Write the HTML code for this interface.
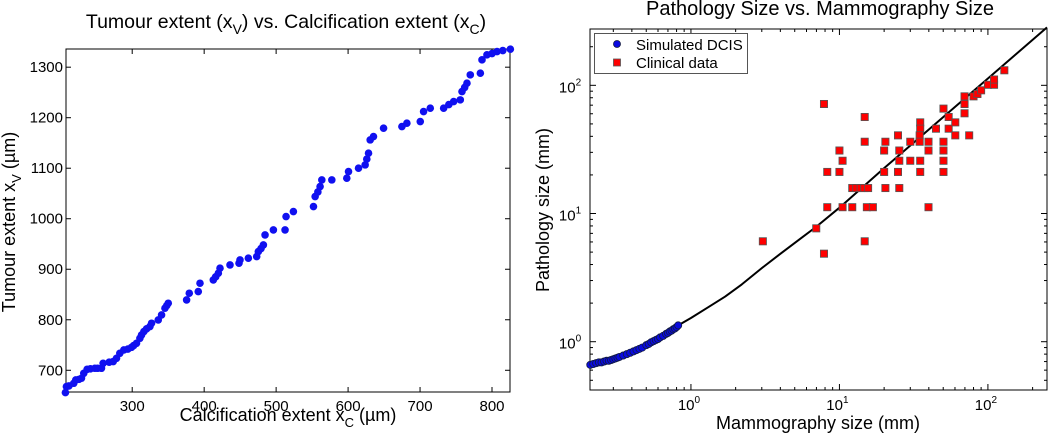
<!DOCTYPE html>
<html><head><meta charset="utf-8"><style>
html,body{margin:0;padding:0;background:#fff;}
svg{display:block;font-family:"Liberation Sans",sans-serif;}
</style></head><body>
<svg id="fig" width="1050" height="435" viewBox="0 0 1050 435" xmlns="http://www.w3.org/2000/svg">
<g id="left"></g>
<g id="right"></g>
</svg>
<script>
// ---------- Left chart data ----------
const leftX = [207.2,208.6,212,218.8,221.6,226,229.5,232.7,237.4,242,248.1,252,257.3,259.6,268,273.6,278.2,282.8,288.4,294,299.1,302,306.0,310.7,313,316.2,320,324.6,326.9,336.2,340.8,345.5,348,350.1,375.6,379.3,391.8,394.2,412.7,416,419.7,422.0,435.9,448.4,449.8,461.4,473.0,475.3,479,482.3,484.6,496.2,512.4,513.8,524.0,551.9,554.2,558,561.1,563.5,577.4,598.2,600.6,614.5,623.7,626,628.4,630.7,635.3,649.3,674.8,681.7,700.3,704.9,714.2,732.8,740,746.7,755.9,758.3,762,765.2,769.8,783.8,786.1,793.0,800,807.0,815,825.5];
const leftY = [655.8,667.7,669,674.3,680.8,682,684.2,694.1,702.0,703,704.0,704,704.0,713.9,716,717.2,723.8,733.7,740.3,742,745.5,749,753.5,763.4,770,776.6,782,786.5,793.1,799.7,809.6,822.8,828,832.7,839.3,852.5,855.8,872.3,878.9,885,892.1,902.0,908.6,911.9,918.5,921.8,925.1,935.0,941,948.2,968.0,977.9,977.9,1004.3,1014.2,1024.1,1043.9,1053,1063.7,1076.9,1076.9,1080.2,1093.4,1100.0,1106.6,1118,1129.7,1156.1,1162.7,1179.2,1182.5,1189.1,1192.4,1212.2,1218.8,1218.8,1226,1232.0,1235.3,1251.8,1260,1268.3,1284.8,1288.1,1314.5,1324.4,1327,1331.0,1333,1335.6];
const leftXTicks = [300,400,500,600,700,800];
const leftYTicks = [700,800,900,1000,1100,1200,1300];

// ---------- Right chart data ----------
const simX = [0.21,0.22,0.23,0.24,0.25,0.26,0.27,0.28,0.29,0.30,0.31,0.32,0.33,0.35,0.37,0.39,0.41,0.43,0.45,0.47,0.50,0.52,0.54,0.56,0.58,0.60,0.62,0.65,0.68,0.70,0.72,0.74,0.76,0.78,0.80,0.82];
const simY = [0.66,0.67,0.68,0.69,0.69,0.70,0.71,0.71,0.72,0.73,0.74,0.75,0.76,0.78,0.80,0.82,0.84,0.86,0.88,0.90,0.94,0.96,0.99,1.01,1.03,1.05,1.08,1.11,1.15,1.17,1.20,1.22,1.25,1.27,1.30,1.34];
const clinX = [3.05,6.98,7.87,7.87,8.28,8.28,10,10,10.5,10.5,12.2,13.0,13.9,14.7,15.6,12.2,14.8,14.8,14.8,15.3,16.8,20,20.4,20,20.4,24.8,25.3,25.3,24.8,25.3,30,30,35,35,34.7,34.7,35,35,39.8,39.8,39.8,44.7,50.2,50.2,50.2,50.2,50.2,54.4,54.4,60.3,60.3,69.6,69.6,69.6,74.8,80,85,90,100,110,110,129];
const clinY = [6.07,7.66,71.5,4.86,21.1,11.2,31,21.1,25.8,11.2,15.8,15.8,15.8,15.8,15.8,11.2,56.6,36.3,6.07,11.2,11.2,31,36.3,21.1,15.8,40.7,31,25.8,21.1,15.8,36.3,25.8,51.4,45.9,40.7,36.3,25.8,21.1,36.3,31,11.2,45.9,65.8,36.3,31,25.8,21.1,56.6,45.9,51.4,40.7,82,71.5,60.5,40.7,82,85.6,91.4,101,101,111,131];
const fitX = [0.21,0.3,0.5,0.82,1.0,1.3,1.7,2.2,3,4,5.5,7,10,20,100,250];
const fitY = [0.66,0.73,0.95,1.34,1.53,1.85,2.25,2.8,3.75,4.85,6.4,7.9,11.1,22.6,113,283];
const rightXTickExp = [0,1,2];
const rightYTickExp = [0,1,2];

const NS='http://www.w3.org/2000/svg';
function mk(tag, attrs, parent){const e=document.createElementNS(NS,tag);for(const k in attrs)e.setAttribute(k,attrs[k]);parent.appendChild(e);return e;}

// ----- Left -----
(function(){
 const g=document.getElementById('left');
 const L=66,R=510,T=49,B=392, x0=208,x1=825,y0=657,y1=1336;
 const sx=v=>L+(v-x0)/(x1-x0)*(R-L);
 const sy=v=>B-(v-y0)/(y1-y0)*(B-T);
 let t=mk('text',{x:286,y:28,'text-anchor':'middle','font-size':19.5,fill:'#000'},g);
 t.innerHTML='Tumour extent (x<tspan font-size="14" dy="6">V</tspan><tspan dy="-6">) vs. Calcification extent (x</tspan><tspan font-size="14" dy="6">C</tspan><tspan dy="-6">)</tspan>';
 
 
 const box=mk('rect',{x:L,y:T,width:R-L,height:B-T,fill:'none',stroke:'#000','stroke-width':1},g);
 
 
 leftXTicks.forEach(v=>{const x=sx(v);
  mk('line',{x1:x,y1:B,x2:x,y2:B-5,stroke:'#000'},g);mk('line',{x1:x,y1:T,x2:x,y2:T+5,stroke:'#000'},g);
  const l=mk('text',{x:x,y:411,'text-anchor':'middle','font-size':15},g);l.textContent=v;
  
  });
 leftYTicks.forEach(v=>{const y=sy(v);
  mk('line',{x1:L,y1:y,x2:L+5,y2:y,stroke:'#000'},g);mk('line',{x1:R,y1:y,x2:R-5,y2:y,stroke:'#000'},g);
  const l=mk('text',{x:63,y:y+5,'text-anchor':'end','font-size':15},g);l.textContent=v;
  
  });
 leftX.forEach((v,i)=>{const c=mk('circle',{cx:sx(v),cy:sy(leftY[i]),r:3.8,fill:'#1010f0'},g);
  
  });
 let xl=mk('text',{x:288,y:421,'text-anchor':'middle','font-size':18},g);
 xl.innerHTML='Calcification extent x<tspan font-size="13" dy="6">C</tspan><tspan dy="-6"> (µm)</tspan>';
 
 
 let yl=mk('text',{x:0,y:0,'text-anchor':'middle','font-size':18,transform:'translate(15,222) rotate(-90)'},g);
 yl.innerHTML='Tumour extent x<tspan font-size="13" dy="6">V</tspan><tspan dy="-6"> (µm)</tspan>';
 
 
})();

// ----- Right -----
(function(){
 const g=document.getElementById('right');
 const L=590,R=1047,T=29,B=390, lx0=Math.log10(0.209),lx1=Math.log10(250),ly0=Math.log10(0.42),ly1=Math.log10(275);
 const sx=v=>L+(Math.log10(v)-lx0)/(lx1-lx0)*(R-L);
 const sy=v=>B-(Math.log10(v)-ly0)/(ly1-ly0)*(B-T);
 let t=mk('text',{x:820,y:15,'text-anchor':'middle','font-size':20},g);t.textContent='Pathology Size vs. Mammography Size';
 
 
 const box=mk('rect',{x:L,y:T,width:R-L,height:B-T,fill:'none',stroke:'#000'},g);
 
 
 for(let d=-1;d<=2;d++)for(let m=1;m<10;m++){const v=m*Math.pow(10,d);
  if(v>=0.209&&v<=250){const x=sx(v),len=m===1?6:3;mk('line',{x1:x,y1:B,x2:x,y2:B-len,stroke:'#000'},g);mk('line',{x1:x,y1:T,x2:x,y2:T+len,stroke:'#000'},g);}
  if(v>=0.42&&v<=275){const y=sy(v),len=m===1?6:3;mk('line',{x1:L,y1:y,x2:L+len,y2:y,stroke:'#000'},g);mk('line',{x1:R,y1:y,x2:R-len,y2:y,stroke:'#000'},g);}}
 rightXTickExp.forEach(e=>{const x=sx(Math.pow(10,e));
  const l=mk('text',{x:x-2,y:410,'text-anchor':'middle','font-size':15},g);
  l.innerHTML='10<tspan font-size="10" dy="-7">'+e+'</tspan>';
  
  });
 rightYTickExp.forEach(e=>{const y=sy(Math.pow(10,e));
  const l=mk('text',{x:570,y:y+7,'text-anchor':'middle','font-size':15},g);
  l.innerHTML='10<tspan font-size="10" dy="-7">'+e+'</tspan>';
  
  });
 const fit=mk('polyline',{points:fitX.map((v,i)=>sx(v)+','+sy(fitY[i])).join(' '),fill:'none',stroke:'#000','stroke-width':2,'stroke-linejoin':'round'},g);
 
 
 simX.forEach((v,i)=>{const c=mk('circle',{cx:sx(v),cy:sy(simY[i]),r:3.6,fill:'#0a0ae0',stroke:'#111a40','stroke-width':0.8},g);
  
  });
 clinX.forEach((v,i)=>{const r=mk('rect',{x:sx(v)-3.6,y:sy(clinY[i])-3.6,width:7.2,height:7.2,fill:'#ff0000',stroke:'#555','stroke-width':0.8},g);
  
  });
 const lg=mk('g',{},g);
 
 
 mk('rect',{x:594.5,y:33.5,width:153,height:40,fill:'#fff',stroke:'#555'},lg);
 mk('circle',{cx:617,cy:44,r:3.5,fill:'#0a0ae0',stroke:'#111a40','stroke-width':0.8},lg);
 mk('rect',{x:613.5,y:59,width:7,height:7,fill:'#f00',stroke:'#555','stroke-width':0.8},lg);
 let a=mk('text',{x:636,y:50,'font-size':15},lg);a.textContent='Simulated DCIS';
 
 
 let b=mk('text',{x:636,y:68,'font-size':15},lg);b.textContent='Clinical data';
 
 
 let xl=mk('text',{x:818,y:429,'text-anchor':'middle','font-size':18},g);xl.textContent='Mammography size (mm)';
 
 
 let yl=mk('text',{x:0,y:0,'text-anchor':'middle','font-size':18,transform:'translate(549,210) rotate(-90)'},g);yl.textContent='Pathology size (mm)';
 
 
})();
</script>
</body></html>
